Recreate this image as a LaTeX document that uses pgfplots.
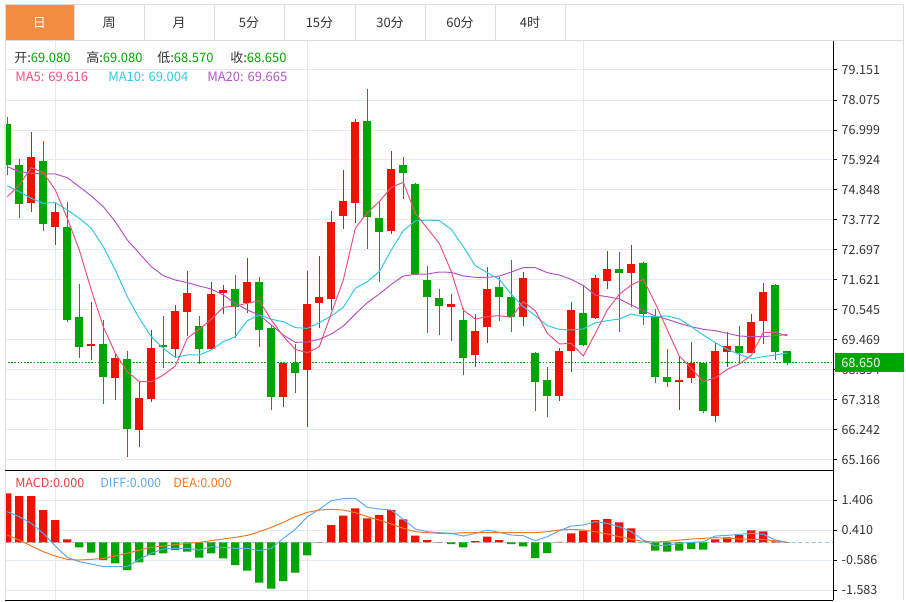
\documentclass[border=0pt]{standalone}
\usepackage{pgfplots}
\pgfplotsset{compat=1.18}
\usepackage{pgfplotstable}
\usepackage{fontspec}
\setmainfont{Noto Sans CJK SC}

\definecolor{kred}{RGB}{238,18,0}
\definecolor{kgreen}{RGB}{0,166,0}
\definecolor{ma5c}{RGB}{236,82,128}
\definecolor{ma10c}{RGB}{50,200,225}
\definecolor{ma20c}{RGB}{180,85,200}
\definecolor{diffc}{RGB}{90,170,240}
\definecolor{deac}{RGB}{245,120,30}
\definecolor{macdc}{RGB}{235,60,60}
\definecolor{gridc}{RGB}{226,234,242}
\definecolor{framec}{RGB}{221,221,221}
\definecolor{tabc}{RGB}{242,140,64}
\definecolor{txtc}{RGB}{51,51,51}
\definecolor{zeroc}{RGB}{150,200,240}

\newcommand\tickfont{\fontsize{9.4}{11}\selectfont}
\newcommand\legfont{\fontsize{9.75}{12}\selectfont}

% daily candles: x o h l c  (red = close above open)
\pgfplotstableread{
x o h l c
2 74.394 76.916 74.047 76.019
4 73.509 74.370 72.887 74.047
7 69.241 70.831 68.751 69.325
9 68.094 68.954 67.317 68.811
11 66.253 67.974 65.643 67.377
12 67.365 69.827 67.257 69.182
14 69.134 70.724 68.811 70.508
15 70.484 71.931 69.612 71.142
17 69.134 71.537 69.100 71.118
18 71.166 71.441 70.389 71.262
20 70.783 72.397 70.449 71.537
23 67.436 68.656 67.078 68.632
25 68.392 71.942 66.360 70.759
26 70.783 72.492 69.886 71.010
27 70.950 74.094 70.544 73.700
28 73.927 75.564 73.461 74.453
29 74.369 77.393 73.652 77.298
32 73.377 76.246 73.269 75.588
37 70.663 71.106 69.444 70.759
39 68.918 70.388 68.488 69.779
40 69.934 72.086 69.348 71.309
43 70.305 71.918 69.970 71.691
46 67.460 69.169 67.292 69.073
47 69.073 70.831 68.308 70.544
49 70.257 71.811 70.220 71.691
50 71.596 72.672 71.309 72.014
52 71.859 72.887 70.663 72.193
56 67.950 68.870 66.958 68.033
57 68.117 69.384 67.914 68.631
59 66.754 69.372 66.539 69.073
60 69.049 69.743 68.488 69.253
62 69.014 70.388 69.000 70.125
63 70.161 71.524 69.312 71.189
}\upcandles

\pgfplotstableread{
x o h l c
0 77.215 77.478 75.386 75.744
1 75.744 75.960 73.832 74.358
3 75.876 76.593 73.366 73.628
5 73.533 74.406 70.102 70.186
6 70.281 71.465 68.835 69.229
8 69.325 70.186 67.185 68.142
10 68.787 69.074 65.285 66.289
13 69.301 70.329 68.476 69.217
16 69.983 70.317 68.596 69.134
19 71.309 71.811 69.528 70.664
21 71.537 71.728 69.229 69.827
22 69.887 70.006 66.958 67.436
24 68.632 69.325 67.580 68.273
30 77.334 78.457 72.719 73.867
31 73.843 74.453 71.548 73.329
33 75.744 76.043 74.536 75.469
34 75.050 75.086 71.800 71.835
35 71.620 72.122 69.707 70.998
36 70.986 71.309 69.647 70.687
38 70.185 70.627 68.201 68.822
41 71.357 71.739 70.149 71.022
42 71.022 72.337 69.767 70.305
44 68.990 69.026 66.922 67.974
45 68.033 68.512 66.718 67.472
48 70.448 71.452 69.250 69.289
51 72.014 72.624 69.743 71.883
53 72.217 72.253 70.006 70.400
54 70.281 70.568 67.914 68.129
55 68.153 69.133 67.770 67.950
58 68.631 68.691 66.838 66.934
61 69.265 69.970 68.631 69.014
64 71.440 71.476 68.751 69.049
65 69.080 69.080 68.570 68.650
}\downcandles

\pgfplotstableread{
x ma5 ma10 ma20
0 74.609 74.991 75.685
1 75.027 74.788 75.505
2 75.649 74.549 75.446
3 75.469 74.370 75.422
4 74.848 74.394 75.422
5 73.832 74.131 75.290
6 72.696 73.832 74.967
7 71.262 73.473 74.631
8 69.947 72.816 74.250
9 68.990 71.979 73.712
10 68.333 71.022 73.055
11 67.974 70.245 72.576
12 67.974 69.588 72.098
13 68.213 69.170 71.776
14 68.536 68.847 71.620
15 69.528 68.931 71.525
16 69.851 68.931 71.405
17 70.210 69.110 71.297
18 70.640 69.409 71.082
19 70.688 69.588 70.783
20 70.783 70.162 70.544
21 70.879 70.365 70.365
22 70.186 70.210 70.006
23 69.600 70.126 69.648
24 69.134 69.911 69.385
25 69.014 69.886 69.396
26 69.229 70.089 69.492
27 70.424 70.329 69.683
28 71.620 70.640 69.970
29 73.472 71.321 70.400
30 74.034 71.560 70.807
31 74.429 71.918 71.118
32 74.943 72.695 71.464
33 75.122 73.389 71.763
34 74.010 73.736 71.823
35 73.472 73.771 71.835
36 72.934 73.748 71.906
37 71.918 73.437 71.894
38 70.544 72.815 71.763
39 70.221 72.134 71.715
40 70.305 71.883 71.715
41 70.341 71.643 71.763
42 70.281 71.106 71.906
43 70.842 70.663 72.062
44 70.520 70.341 72.062
45 69.707 69.982 71.883
46 69.325 69.850 71.799
47 69.348 69.827 71.643
48 68.894 69.863 71.419
49 69.707 70.089 71.082
50 70.544 70.161 71.022
51 71.106 70.221 70.939
52 71.440 70.400 70.723
53 71.643 70.305 70.520
54 70.783 70.305 70.329
55 69.827 70.329 70.209
56 68.894 70.221 70.066
57 68.452 69.946 69.946
58 67.974 69.647 69.851
59 68.117 69.372 69.803
60 68.416 69.133 69.707
61 68.607 68.954 69.612
62 68.918 68.798 69.588
63 69.743 68.870 69.588
64 69.743 68.930 69.624
65 69.616 69.004 69.665
}\matable

\pgfplotstableread{
x v
0 1.627
1 1.538
2 1.538
3 1.073
4 0.741
5 0.100
26 0.010
27 0.575
28 0.885
29 1.129
30 0.797
31 0.907
32 1.073
33 0.763
34 0.221
35 0.077
36 0.010
39 0.044
40 0.188
41 0.077
46 0.015
47 0.299
48 0.387
49 0.741
50 0.775
51 0.664
52 0.465
59 0.100
60 0.166
61 0.243
62 0.398
63 0.365
64 0.030
}\macdup

\pgfplotstableread{
x v
6 -0.166
7 -0.343
8 -0.587
9 -0.697
10 -0.919
11 -0.664
12 -0.420
13 -0.365
14 -0.255
15 -0.310
16 -0.509
17 -0.365
18 -0.531
19 -0.753
20 -0.941
21 -1.339
22 -1.538
23 -1.284
24 -1.007
25 -0.432
37 -0.055
38 -0.166
42 -0.055
43 -0.133
44 -0.520
45 -0.354
53 -0.010
54 -0.277
55 -0.310
56 -0.277
57 -0.221
58 -0.243
65 -0.005
}\macddown

\pgfplotstableread{
x diff dea
0 1.018 0.243
1 0.852 0.077
2 0.631 -0.122
3 0.299 -0.310
4 -0.122 -0.454
5 -0.498 -0.564
6 -0.642 -0.587
7 -0.719 -0.564
8 -0.808 -0.531
9 -0.808 -0.454
10 -0.808 -0.365
11 -0.564 -0.255
12 -0.365 -0.166
13 -0.221 -0.122
14 -0.199 -0.077
15 -0.199 -0.033
16 -0.255 0.000
17 -0.144 0.055
18 -0.166 0.111
19 -0.199 0.166
20 -0.199 0.232
21 -0.277 0.354
22 -0.199 0.498
23 0.133 0.664
24 0.432 0.852
25 0.852 0.996
26 1.096 1.073
27 1.383 1.096
28 1.450 1.073
29 1.461 0.985
30 1.162 0.852
31 1.107 0.741
32 1.073 0.609
33 0.764 0.465
34 0.443 0.354
35 0.354 0.321
36 0.321 0.299
37 0.299 0.299
38 0.210 0.321
39 0.299 0.321
40 0.409 0.321
41 0.332 0.321
42 0.243 0.321
43 0.221 0.321
44 0.055 0.321
45 0.188 0.354
46 0.387 0.409
47 0.542 0.432
48 0.575 0.409
49 0.686 0.354
50 0.631 0.277
51 0.520 0.188
52 0.354 0.100
53 0.077 0.033
54 -0.122 0.011
55 -0.089 0.033
56 -0.033 0.077
57 0.000 0.111
58 0.022 0.133
59 0.210 0.155
60 0.232 0.133
61 0.266 0.111
62 0.299 0.100
63 0.266 0.100
64 0.077 0.055
65 0.000 0.000
}\macdlines

\pgfplotsset{
  kpanel/.style={
    anchor=north west, scale only axis, width=621pt,
    xmin=-0.1917, xmax=68.808,
    axis line style={draw=none},
    xtick={3.975,24.975,47.975}, xticklabels={}, xtick style={draw=none},
    ytick pos=right, yticklabel pos=right,
    ytick style={draw=black, line width=0.75pt},
    tick align=outside, major tick length=3pt,
    yticklabel style={font=\tickfont, text=txtc},
    /pgf/number format/assume math mode=true,
    grid=major, major grid style={draw=gridc, line width=0.75pt},
  },
  wick/.style={draw=none, forget plot, error bars/.cd, y dir=both, y explicit,
    error mark=none, error bar style={draw=#1, line width=0.75pt}},
  body/.style={draw=none, forget plot, error bars/.cd, y dir=both, y explicit,
    error mark=none, error bar style={draw=#1, line width=6.2pt}},
}

\begin{document}
\begin{tikzpicture}
\path[use as bounding box] (0,0) rectangle (679.5pt,-451.5pt);

% period tabs
\fill[tabc] (3.75pt,-3.75pt) rectangle (55.5pt,-30.75pt);
\draw[framec, line width=0.75pt] (3.75pt,-3.75pt) -- (677.25pt,-3.75pt);
\draw[framec, line width=0.75pt] (3.75pt,-30.75pt) -- (677.25pt,-30.75pt);
\foreach \t in {55.5,108,160.5,213,266.25,318.75,371.25,423.75}
  \draw[framec, line width=0.75pt] (\t pt,-3.75pt) -- (\t pt,-30.75pt);
\node[text=white, font=\legfont] at (29.6pt,-17.25pt) {日};
\node[text=txtc, font=\legfont] at (81.75pt,-17.25pt) {周};
\node[text=txtc, font=\legfont] at (134.25pt,-17.25pt) {月};
\node[text=txtc, font=\legfont] at (186.75pt,-17.25pt) {5分};
\node[text=txtc, font=\legfont] at (239.6pt,-17.25pt) {15分};
\node[text=txtc, font=\legfont] at (292.5pt,-17.25pt) {30分};
\node[text=txtc, font=\legfont] at (345pt,-17.25pt) {60分};
\node[text=txtc, font=\legfont] at (397.5pt,-17.25pt) {4时};

% price panel
\begin{axis}[kpanel, at={(3.75pt,-30.75pt)}, height=321.75pt,
  ymin=64.806, ymax=80.191,
  ytick={65.166,66.242,67.318,68.394,69.469,70.545,71.621,72.697,73.772,74.848,75.924,76.999,78.075,79.151},
  yticklabels={65.166,66.242,67.318,68.394,69.469,70.545,71.621,72.697,73.772,74.848,75.924,76.999,78.075,79.151},
]
\addplot[kgreen, line width=0.75pt, dash pattern=on 1.2pt off 1.2pt] coordinates {(-0.2,68.65) (68.81,68.65)};
\addplot[wick=kred] table[x=x, y expr={(\thisrow{h}+\thisrow{l})/2}, y error expr={(\thisrow{h}-\thisrow{l})/2}] {\upcandles};
\addplot[body=kred] table[x=x, y expr={(\thisrow{o}+\thisrow{c})/2}, y error expr={(\thisrow{c}-\thisrow{o})/2}] {\upcandles};
\addplot[wick=kgreen] table[x=x, y expr={(\thisrow{h}+\thisrow{l})/2}, y error expr={(\thisrow{h}-\thisrow{l})/2}] {\downcandles};
\addplot[body=kgreen] table[x=x, y expr={(\thisrow{o}+\thisrow{c})/2}, y error expr={(\thisrow{o}-\thisrow{c})/2}] {\downcandles};
\addplot[ma20c, line width=0.75pt] table[x=x, y=ma20] {\matable};
\addplot[ma10c, line width=0.75pt] table[x=x, y=ma10] {\matable};
\addplot[ma5c, line width=0.75pt] table[x=x, y=ma5] {\matable};
\end{axis}

% MACD panel
\begin{axis}[kpanel, at={(3.75pt,-352.5pt)}, height=97.5pt,
  ymin=-1.914, ymax=2.402,
  ytick={-1.583,-0.586,0.410,1.406},
  yticklabels={-1.583,-0.586,0.410,1.406},
]
\addplot[zeroc, line width=0.75pt, dash pattern=on 3pt off 2pt] coordinates {(-0.2,0) (68.81,0)};
\addplot[ybar, bar width=6.2pt, bar shift=0pt, fill=kred, draw=none] table[x=x, y=v] {\macdup};
\addplot[ybar, bar width=6.2pt, bar shift=0pt, fill=kgreen, draw=none] table[x=x, y=v] {\macddown};
\addplot[diffc, line width=0.75pt] table[x=x, y=diff] {\macdlines};
\addplot[deac, line width=0.75pt] table[x=x, y=dea] {\macdlines};
\end{axis}

% frame
\draw[framec, line width=0.75pt] (3.75pt,-3.75pt) -- (3.75pt,-450pt);
\draw[framec, line width=0.75pt] (677.25pt,-3.75pt) -- (677.25pt,-450pt);
\draw[black, line width=0.75pt] (624.75pt,-30.75pt) -- (624.75pt,-450pt);
\draw[black, line width=0.75pt] (3.75pt,-352.5pt) -- (624.75pt,-352.5pt);
\draw[black, line width=0.75pt] (3.75pt,-450pt) -- (624.75pt,-450pt);

% last price tag
\fill[kgreen] (626.25pt,-264.75pt) rectangle (678pt,-279pt);
\node[anchor=west, inner sep=0pt, text=white, font=\fontsize{9.6}{11}\selectfont] at (630.75pt,-271.9pt) {68.650};

% readouts
\node[anchor=base west, inner sep=0pt, font=\legfont] at (10.5pt,-47.25pt) {\textcolor{txtc}{开:}\textcolor{kgreen}{69.080}};
\node[anchor=base west, inner sep=0pt, font=\legfont] at (64.5pt,-47.25pt) {\textcolor{txtc}{高:}\textcolor{kgreen}{69.080}};
\node[anchor=base west, inner sep=0pt, font=\legfont] at (117.75pt,-47.25pt) {\textcolor{txtc}{低:}\textcolor{kgreen}{68.570}};
\node[anchor=base west, inner sep=0pt, font=\legfont] at (172.5pt,-47.25pt) {\textcolor{txtc}{收:}\textcolor{kgreen}{68.650}};
\node[anchor=base west, inner sep=0pt, font=\legfont, text=ma5c] at (11.25pt,-61.5pt) {MA5: 69.616};
\node[anchor=base west, inner sep=0pt, font=\legfont, text=ma10c] at (81pt,-61.5pt) {MA10: 69.004};
\node[anchor=base west, inner sep=0pt, font=\legfont, text=ma20c] at (155.25pt,-61.5pt) {MA20: 69.665};
\node[anchor=base west, inner sep=0pt, font=\tickfont, text=macdc] at (11.25pt,-365.25pt) {MACD:0.000};
\node[anchor=base west, inner sep=0pt, font=\tickfont, text=diffc] at (75pt,-365.25pt) {DIFF:0.000};
\node[anchor=base west, inner sep=0pt, font=\tickfont, text=deac] at (129.75pt,-365.25pt) {DEA:0.000};
\end{tikzpicture}
\end{document}
